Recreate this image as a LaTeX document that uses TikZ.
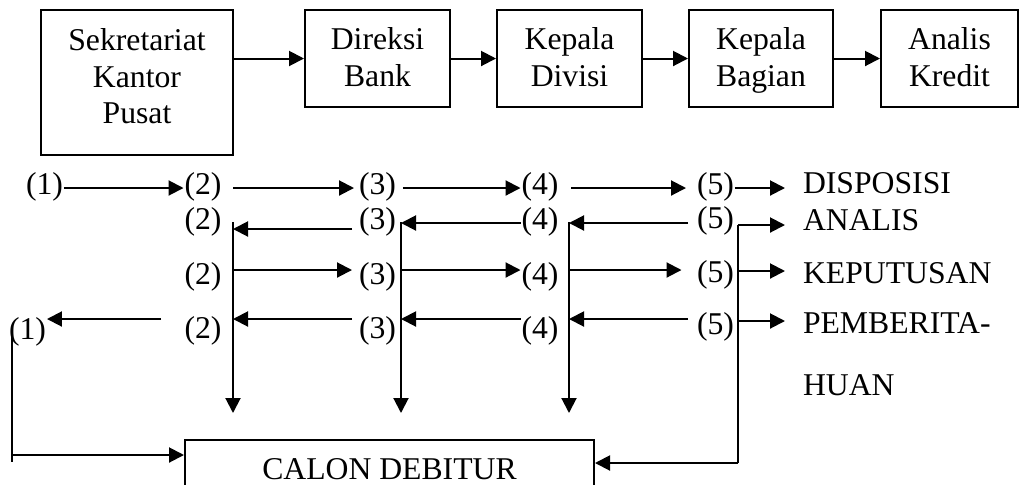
\documentclass[tikz,border=0pt]{standalone}
\usepackage{fontspec}
\setmainfont{Liberation Serif}
\usetikzlibrary{arrows.meta,calc}
\begin{document}
\begin{tikzpicture}[x=0.5pt,y=-0.5pt, line width=1pt,
  font=\fontsize{15.85pt}{18.25pt}\selectfont,
  arr/.style={-{Triangle[length=7.5pt,width=7.5pt]}},
  lab/.style={inner sep=0pt},
  txt/.style={inner sep=0pt, anchor=west},
  box/.style={draw, inner sep=0pt}]
\useasboundingbox (0,0) rectangle (1019,484);
\clip (0,0) rectangle (1019,484);

% top boxes
\node[box] (b1) at (137,82.5) {\begin{minipage}[c][72.5pt][t]{96pt}\centering\vspace*{7.7pt}\strut Sekretariat\\\strut Kantor\\\strut Pusat\end{minipage}};
\node[box] (b2) at (377.5,58.5) {\begin{minipage}[c][48.5pt][t]{72.5pt}\centering\vspace*{7.2pt}\strut Direksi\\\strut Bank\end{minipage}};
\node[box] (b3) at (569.5,58.5) {\begin{minipage}[c][48.5pt][t]{72.5pt}\centering\vspace*{7.2pt}\strut Kepala\\\strut Divisi\end{minipage}};
\node[box] (b4) at (761,58.5) {\begin{minipage}[c][48.5pt][t]{72pt}\centering\vspace*{7.2pt}\strut Kepala\\\strut Bagian\end{minipage}};
\node[box] (b5) at (949.5,58.5) {\begin{minipage}[c][48.5pt][t]{68.5pt}\centering\vspace*{7.2pt}\strut Analis\\\strut Kredit\end{minipage}};

\draw[arr] (b1.east |- b2.west) -- (b2.west);
\draw[arr] (b2) -- (b3);
\draw[arr] (b3) -- (b4);
\draw[arr] (b4) -- (b5);

% bottom box
\node[box, anchor=north] (cd) at (389.5,439) {\begin{minipage}[c][30pt][t]{204.5pt}\centering\vspace*{7.2pt}\strut CALON DEBITUR\end{minipage}};

% number labels
\node[lab] (n11) at (44.5,187) {(1)};
\node[lab] (n12) at (203,187) {(2)};
\node[lab] (n13) at (377.5,187) {(3)};
\node[lab] (n14) at (540,187) {(4)};
\node[lab] (n15) at (715.5,187) {(5)};
\node[lab] (n22) at (203,222) {(2)};
\node[lab] (n23) at (377.5,222) {(3)};
\node[lab] (n24) at (540,222) {(4)};
\node[lab] (n25) at (715.5,221) {(5)};
\node[lab] (n32) at (203,277) {(2)};
\node[lab] (n33) at (377.5,277) {(3)};
\node[lab] (n34) at (540,277) {(4)};
\node[lab] (n35) at (715.5,275) {(5)};
\node[lab] (n41) at (27.5,332) {(1)};
\node[lab] (n42) at (203,331) {(2)};
\node[lab] (n43) at (377.5,331) {(3)};
\node[lab] (n44) at (540,331) {(4)};
\node[lab] (n45) at (715.5,327) {(5)};

% right-hand texts
\node[txt] (d1) at (802,183) {DISPOSISI};
\node[txt] (d2) at (802,220) {ANALIS};
\node[txt] (d3) at (802,273) {KEPUTUSAN};
\node[txt] (d4) at (802,323) {PEMBERITA-};
\node[txt] (d5) at (802,385) {HUAN};

% helper coordinates
\coordinate (ra1) at (0,188);
\coordinate (ra2a) at (0,229);
\coordinate (ra2) at (0,223);
\coordinate (ra3) at (0,270);
\coordinate (ra4) at (0,319);
\coordinate (ra5) at (0,455);
\coordinate (rl3) at (0,271);
\coordinate (rl4) at (0,321);
\coordinate (v2t) at (233,222);
\coordinate (v2b) at (233,413);
\coordinate (v3t) at (401,222);
\coordinate (v3b) at (401,413);
\coordinate (v4t) at (569,222);
\coordinate (v4b) at (569,413);
\coordinate (v5t) at (738,225);
\coordinate (v5b) at (738,463);
\coordinate (lt) at (12,333);
\coordinate (lb) at (12,462);

% row 1
\draw[arr] (n11.east |- ra1) -- (n12.west |- ra1);
\draw[arr, shorten <=5.5pt, shorten >=2pt] (n12.east |- ra1) -- (n13.west |- ra1);
\draw[arr, shorten <=3pt] (n13.east |- ra1) -- (n14.west |- ra1);
\draw[arr, shorten <=6pt, shorten >=5pt] (n14.east |- ra1) -- (n15.west |- ra1);
\draw[arr, shorten >=8.5pt] (n15.east |- ra1) -- (d1.west |- ra1);

% row 2
\draw[arr, shorten <=3pt] (n23.west |- ra2a) -- (v2t |- ra2a);
\draw[arr] (n24.west |- ra2) -- (v3t |- ra2);
\draw[arr, shorten <=4pt] (n25.west |- ra2) -- (v4t |- ra2);
\draw[arr, shorten >=8.5pt] (v5t) -- (d2.west |- v5t);

% row 3
\draw[arr, shorten >=3pt] (v2t |- ra3) -- (n33.west |- ra3);
\draw[arr] (v3t |- ra3) -- (n34.west |- ra3);
\draw[arr, shorten >=7.25pt] (v4t |- ra3) -- (n35.west |- ra3);
\draw[arr, shorten >=8.5pt] (v5t |- rl3) -- (d3.west |- rl3);

% row 4
\draw[arr, shorten <=11.25pt] (n42.west |- ra4) -- (n41.east |- ra4);
\draw[arr, shorten <=3pt] (n43.west |- ra4) -- (v2t |- ra4);
\draw[arr] (n44.west |- ra4) -- (v3t |- ra4);
\draw[arr, shorten <=4pt] (n45.west |- ra4) -- (v4t |- ra4);
\draw[arr, shorten >=8.5pt] (v5t |- rl4) -- (d4.west |- rl4);

% verticals
\draw[arr] (v2t) -- (v2b);
\draw[arr] (v3t) -- (v3b);
\draw[arr] (v4t) -- (v4b);
\draw (v5t) -- (v5b);
\draw[arr] (v5b) -- (cd.east |- v5b);
\draw (lt) -- (lb);
\draw[arr] (lt |- ra5) -- (cd.west |- ra5);
\end{tikzpicture}
\end{document}
